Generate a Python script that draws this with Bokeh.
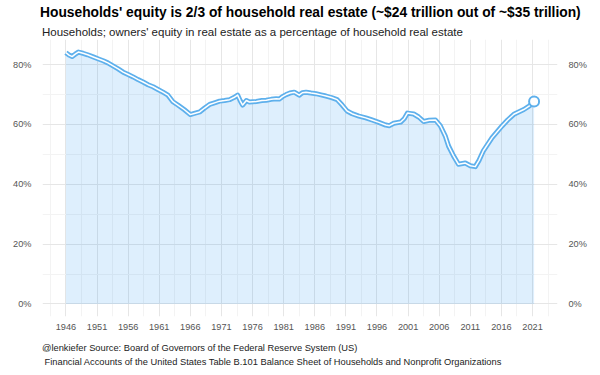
from bokeh.plotting import figure
from bokeh.models import (Title, LinearAxis, FixedTicker, PrintfTickFormatter,
                          Range1d, ColumnDataSource)
from bokeh.embed import file_html
from bokeh.resources import INLINE

# ---- data ----
years = [1946.0, 1946.5, 1947.0, 1947.5, 1948.0, 1948.75, 1949.5, 1950.5, 1951.25,
         1952.0, 1952.75, 1953.5, 1954.4, 1955.2, 1956.0, 1956.8, 1957.6, 1958.4,
         1959.2, 1960.0, 1960.8, 1961.6, 1962.4, 1963.2, 1964.0, 1965.0, 1966.0,
         1966.5, 1967.5, 1968.3, 1969.1, 1970.0, 1970.7, 1971.5, 1972.3, 1973.0,
         1973.6, 1974.0, 1974.4, 1975.0, 1975.5, 1976.6, 1977.5, 1978.2, 1979.0,
         1979.8, 1980.3, 1980.8, 1981.4, 1982.0, 1982.7, 1983.5, 1984.0, 1984.6,
         1985.4, 1986.2, 1987.0, 1987.8, 1988.7, 1989.6, 1990.4, 1991.2, 1992.0,
         1993.1, 1994.2, 1995.2, 1996.3, 1997.4, 1998.0, 1998.7, 1999.8, 2000.4,
         2000.9, 2001.9, 2002.7, 2003.5, 2004.4, 2005.4, 2006.2, 2007.0, 2007.5,
         2008.3, 2009.1, 2010.2, 2011.0, 2011.8, 2012.4, 2013.1, 2014.5, 2016.1,
         2017.0, 2018.0, 2019.6, 2020.5, 2021.25]
equity_pct = [84.0, 83.2, 82.7, 83.5, 84.2, 83.8, 83.3, 82.5, 81.9,
              81.3, 80.6, 79.7, 78.6, 77.5, 76.7, 75.9, 75.0, 74.2,
              73.3, 72.6, 71.7, 70.8, 69.8, 67.6, 66.5, 65.0, 63.3,
              63.6, 64.2, 65.5, 66.7, 67.3, 67.8, 68.0, 68.3, 69.0,
              69.8, 68.0, 66.5, 68.0, 67.5, 67.7, 68.0, 68.1, 68.4,
              68.6, 68.5, 69.3, 70.0, 70.5, 70.8, 69.8, 70.6, 70.8,
              70.5, 70.3, 69.9, 69.5, 69.0, 68.3, 66.5, 64.5, 63.6,
              62.8, 62.2, 61.5, 60.7, 59.8, 59.6, 60.4, 60.8, 62.0,
              63.8, 63.5, 62.5, 61.0, 61.4, 61.5, 59.5, 56.0, 52.8,
              49.5, 46.7, 47.1, 46.2, 45.9, 48.0, 51.2, 55.6, 59.5,
              61.5, 63.4, 65.0, 66.2, 67.7]

x_major = [1946, 1951, 1956, 1961, 1966, 1971, 1976, 1981, 1986, 1991,
           1996, 2001, 2006, 2011, 2016, 2021]
x_minor = [1943.5, 1948.5, 1953.5, 1958.5, 1963.5, 1968.5, 1973.5, 1978.5,
           1983.5, 1988.5, 1993.5, 1998.5, 2003.5, 2008.5, 2013.5, 2018.5, 2023.5]
y_major = [0, 20, 40, 60, 80]
y_minor = [10, 30, 50, 70]

title_text = "Households' equity is 2/3 of household real estate (~$24 trillion out of ~$35 trillion)"
subtitle_text = "Households; owners' equity in real estate as a percentage of household real estate"
caption1 = "@lenkiefer Source: Board of Governors of the Federal Reserve System (US)"
caption2 = "\u00a0Financial Accounts of the United States Table B.101 Balance Sheet of Households and Nonprofit Organizations"

FONT = "Liberation Sans"
LINE = "#5eb0ec"

src = ColumnDataSource(dict(x=years, y=equity_pct, base=[0] * len(years)))
last = ColumnDataSource(dict(x=years[-1:], y=equity_pct[-1:]))

span = max(years) - min(years)
ymax = max(equity_pct)

p = figure(width=592, height=375, output_backend="svg", toolbar_location=None,
           x_range=Range1d(min(years) - 0.05 * span, max(years) + 0.05 * span),
           y_range=Range1d(-0.05 * ymax, ymax * 1.05),
           min_border_left=42, min_border_right=35, min_border_top=39,
           min_border_bottom=57, outline_line_color=None,
           background_fill_color="white", border_fill_color="white")

p.varea(x="x", y1="base", y2="y", source=src, fill_color="#2196f3", fill_alpha=0.15)
p.line(x="x", y="y", source=src, line_color=LINE, line_width=5, line_join="round")
p.line(x="x", y="y", source=src, line_color="white", line_width=1.5, line_join="round")
p.scatter(x="x", y="y", source=last, size=10, fill_color="white",
          line_color=LINE, line_width=2)

# axes
p.xaxis.ticker = FixedTicker(ticks=x_major, minor_ticks=x_minor)
p.yaxis.ticker = FixedTicker(ticks=y_major, minor_ticks=y_minor)
p.yaxis.formatter = PrintfTickFormatter(format="%d%%")
right_axis = LinearAxis(ticker=FixedTicker(ticks=y_major, minor_ticks=y_minor),
                        formatter=PrintfTickFormatter(format="%d%%"))
p.add_layout(right_axis, "right")

for ax in p.axis:
    ax.axis_line_color = None
    ax.major_tick_line_color = None
    ax.minor_tick_line_color = None
    ax.major_label_text_font = FONT
    ax.major_label_text_font_size = "9.2px"
    ax.major_label_text_color = "#555555"
    ax.major_label_standoff = 5
p.xaxis.major_label_standoff = 1

for g in (p.xgrid[0], p.ygrid[0]):
    g.grid_line_color = "#e6e6e6"
    g.grid_line_width = 1
    g.minor_grid_line_color = "#f3f3f3"
    g.minor_grid_line_width = 1

# titles (nearest to the frame first) and caption
p.add_layout(Title(text=subtitle_text, align="left", offset=-0.5, standoff=4,
                   text_font=FONT, text_font_size="11.5px", text_font_style="normal",
                   text_color="#222222"), "above")
p.add_layout(Title(text=title_text, align="left", offset=-2.5, standoff=3,
                   text_font=FONT, text_font_size="13.8px", text_font_style="bold",
                   text_color="black"), "above")
p.add_layout(Title(text=caption1 + "\n" + caption2, align="left", offset=-0.5,
                   standoff=17, text_line_height=1.4,
                   text_font=FONT, text_font_size="9.3px", text_font_style="normal",
                   text_color="#222222"), "below")

open("out.html", "w").write(file_html(p, INLINE))
